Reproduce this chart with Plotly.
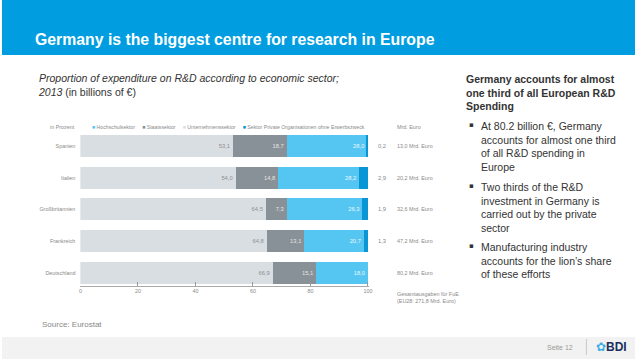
import plotly.graph_objects as go

W, H = 638, 359

countries = ["Spanien", "Italien", "Großbritannien", "Frankreich", "Deutschland"]
unternehmen = [53.1, 54.0, 64.5, 64.8, 66.9]
staat = [18.7, 14.8, 7.3, 13.1, 15.1]
hochschule = [28.0, 28.2, 26.3, 20.7, 18.0]
private = [0.2, 2.9, 1.9, 1.3, 0.0]
totals = [13.0, 20.2, 32.6, 47.2, 80.2]
eu_total = 271.8
x_ticks = [0, 20, 40, 60, 80, 100]

legend_names = ["Hochschulsektor", "Staatssektor", "Unternehmenssektor",
                "Sektor Private Organisationen ohne Erwerbszweck"]

C_UNT = "#D9DEE3"
C_STA = "#889197"
C_HOC = "#55C6F2"
C_PRI = "#0996D7"
FONT = "Liberation Sans, Arial, Helvetica, sans-serif"
GRAY = "#8a8a8a"
SMALL = 5.4


def de(v):
    return f"{v:.1f}".replace(".", ",")


def px(x):
    return x / W


def py(y):
    return 1 - y / H


fig = go.Figure()
series = [
    ("Unternehmenssektor", unternehmen, C_UNT, "#8f8f8f"),
    ("Staatssektor", staat, C_STA, "#e4e4e4"),
    ("Hochschulsektor", hochschule, C_HOC, "#eaf7fd"),
    ("Sektor Private Organisationen ohne Erwerbszweck", private, C_PRI, None),
]
for name, vals, col, tcol in series:
    fig.add_trace(go.Bar(
        y=countries, x=vals, name=name, orientation="h",
        marker=dict(color=col, line=dict(width=0)),
        text=[de(v) for v in vals] if tcol else None,
        textposition="inside" if tcol else "none",
        insidetextanchor="end",
        textangle=0,
        textfont=dict(size=5.8, color=tcol, family=FONT),
        showlegend=False,
        hoverinfo="x+y+name",
    ))

fig.update_layout(
    width=W, height=H,
    margin=dict(l=0, r=0, t=0, b=0),
    paper_bgcolor="white", plot_bgcolor="white",
    barmode="stack", bargap=0.3,
    uniformtext=dict(minsize=5, mode="show"),
    xaxis=dict(domain=[px(79), px(370)], range=[0, 100.4], tickvals=x_ticks,
               ticktext=[str(t) for t in x_ticks], ticks="inside", ticklen=4,
               tickcolor="#999", showline=True, linecolor="#aaa", linewidth=1,
               showgrid=False, zeroline=False, fixedrange=True,
               tickfont=dict(size=SMALL, color=GRAY, family=FONT)),
    yaxis=dict(domain=[py(286), py(132)], range=[4.42, -0.44],
               categoryorder="array", categoryarray=countries,
               showgrid=False, showline=False, zeroline=False, ticks="",
               ticklabelstandoff=4, fixedrange=True,
               tickfont=dict(size=SMALL, color=GRAY, family=FONT)),
    font=dict(family=FONT),
)

shapes = [
    dict(type="rect", xref="paper", yref="paper", x0=0, x1=1, y0=py(55), y1=1,
         fillcolor="#009EE0", line=dict(width=0), layer="below"),
    dict(type="rect", xref="paper", yref="paper", x0=0, x1=1, y0=0, y1=py(337),
         fillcolor="#F2F2F2", line=dict(width=0), layer="below"),
    dict(type="line", xref="paper", yref="paper", x0=px(589), x1=px(589),
         y0=py(355), y1=py(339), line=dict(color="#c8c8c8", width=1)),
]
fig.update_layout(shapes=shapes)

ann = []
ann.append(dict(text="<b>Germany is the biggest centre for research in Europe</b>",
                x=px(31), y=py(40), xref="paper", yref="paper", xanchor="left",
                yanchor="middle", showarrow=False,
                font=dict(size=15.8, color="white", family=FONT)))
ann.append(dict(text="<i>Proportion of expenditure on R&D according to economic sector;</i><br><i>2013</i> (in billions of €)",
                x=px(34), y=py(70), xref="paper", yref="paper", xanchor="left",
                yanchor="top", align="left", showarrow=False,
                font=dict(size=10.5, color="#333", family=FONT)))
leg_colors = {"Hochschulsektor": C_HOC, "Staatssektor": C_STA,
              "Unternehmenssektor": C_UNT,
              "Sektor Private Organisationen ohne Erwerbszweck": C_PRI}
leg_text = "     ".join(f'<span style="color:{leg_colors[n]}">■</span> {n}' for n in legend_names)
ann.append(dict(text=leg_text, x=px(89), y=py(127), xref="paper", yref="paper",
                xanchor="left", yanchor="middle", showarrow=False,
                font=dict(size=5.2, color=GRAY, family=FONT)))
ann.append(dict(text="in Prozent", x=px(76), y=py(127), xref="paper", yref="paper",
                xanchor="right", yanchor="middle", showarrow=False,
                font=dict(size=SMALL, color=GRAY, family=FONT)))
ann.append(dict(text="Mrd. Euro", x=px(396), y=py(127), xref="paper", yref="paper",
                xanchor="left", yanchor="middle", showarrow=False,
                font=dict(size=SMALL, color=GRAY, family=FONT)))
for c, p, t in zip(countries, private, totals):
    if p > 0:
        ann.append(dict(text=de(p), x=px(377), y=c, xref="paper", yref="y",
                        xanchor="left", yanchor="middle", showarrow=False,
                        font=dict(size=5.8, color=GRAY, family=FONT)))
    ann.append(dict(text=f"{de(t)} Mrd. Euro", x=px(396), y=c, xref="paper", yref="y",
                    xanchor="left", yanchor="middle", showarrow=False,
                    font=dict(size=SMALL, color=GRAY, family=FONT)))
ann.append(dict(text=f"Gesamtausgaben für FuE<br>(EU28: {de(eu_total)} Mrd. Euro)",
                x=px(396), y=py(297), xref="paper", yref="paper", xanchor="left",
                yanchor="middle", align="left", showarrow=False,
                font=dict(size=SMALL, color=GRAY, family=FONT)))
ann.append(dict(text="Source: Eurostat", x=px(38), y=py(324), xref="paper", yref="paper",
                xanchor="left", yanchor="middle", showarrow=False,
                font=dict(size=8, color="#888", family=FONT)))
ann.append(dict(text="<b>Germany accounts for almost<br>one third of all European R&D<br>Spending</b>",
                x=px(466), y=py(71), xref="paper", yref="paper", xanchor="left",
                yanchor="top", align="left", showarrow=False,
                font=dict(size=10.5, color="#333", family=FONT)))
bullets = [
    "At 80.2 billion €, Germany<br>accounts for almost one third<br>of all R&D spending in<br>Europe",
    "Two thirds of the R&D<br>investment in Germany is<br>carried out by the private<br>sector",
    "Manufacturing industry<br>accounts for the lion’s share<br>of these efforts",
]
bullet_tops = [118, 179, 239]
for b, yt in zip(bullets, bullet_tops):
    ann.append(dict(text="▪", x=px(469), y=py(yt + 7), xref="paper", yref="paper",
                    xanchor="left", yanchor="middle", showarrow=False,
                    font=dict(size=7, color="#333", family="DejaVu Sans")))
    ann.append(dict(text=b, x=px(481), y=py(yt), xref="paper", yref="paper",
                    xanchor="left", yanchor="top", align="left", showarrow=False,
                    font=dict(size=10.5, color="#333", family=FONT)))
ann.append(dict(text="Seite 12", x=px(578), y=py(347), xref="paper", yref="paper",
                xanchor="right", yanchor="middle", showarrow=False,
                font=dict(size=7, color="#999", family=FONT)))
ann.append(dict(text='<span style="color:#3AAEE6">✿</span><b>BDI</b>', x=px(597), y=py(347),
                xref="paper", yref="paper", xanchor="left", yanchor="middle",
                showarrow=False, font=dict(size=12, color="#1B2F5E", family=FONT)))

fig.update_layout(annotations=ann)
fig.write_html("out.html", config={"displayModeBar": False},
               post_script="document.body.style.margin='0';document.body.style.padding='0';")
